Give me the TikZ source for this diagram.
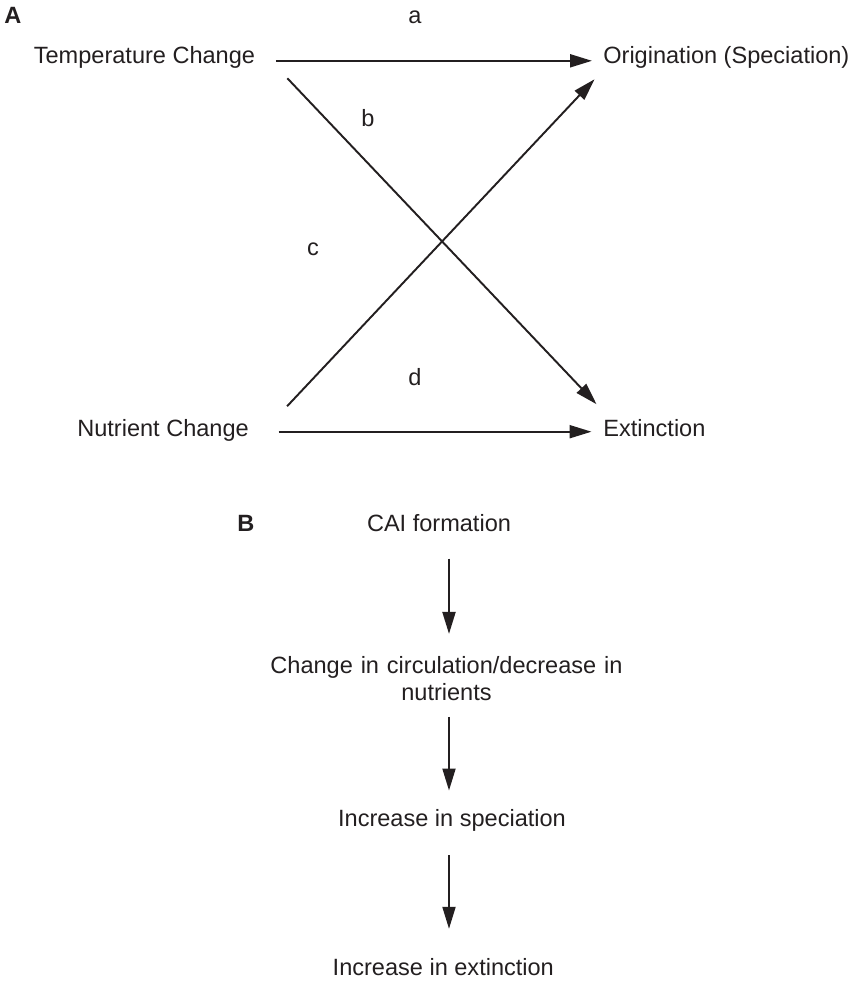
\documentclass[tikz,border=0pt]{standalone}
\usepackage{fontspec}
\setmainfont{Liberation Sans}
\usetikzlibrary{arrows.meta}
\definecolor{ink}{HTML}{231F20}

\begin{document}
\begin{tikzpicture}[x=0.02cm, y=-0.02cm,
  txt/.style={font=\fontsize{13.4}{15.6}\selectfont, text=ink, inner sep=0pt},
  lbl/.style={txt, text height=9.6pt, text depth=2.9pt},
  blk/.style={txt, text width=9cm, align=center},
  tag/.style={txt, font=\fontsize{13.4}{15.6}\selectfont\bfseries},
  arr/.style={draw=ink, line width=1.1pt, -{Triangle[length=12.5pt, width=7.4pt]}}]
\useasboundingbox (0,0) rectangle (861,981);
\node[tag, anchor=base west] (pa) at (4,23.5) {A};
\node[lbl, anchor=base] (la) at (415,23.3) {a};
\node[lbl, anchor=base west] (temp) at (33.5,63.3) {Temperature Change};
\node[lbl, anchor=base west] (orig) at (603,63.3) {Origination (Speciation)};
\node[lbl, anchor=base] (lb) at (368,126.7) {b};
\node[lbl, anchor=base] (lc) at (313,255.5) {c};
\node[lbl, anchor=base] (ld) at (415,385) {d};
\node[lbl, anchor=base west] (nutr) at (77,436.7) {Nutrient Change};
\node[lbl, anchor=base west] (extn) at (603,436.7) {Extinction};
\draw[arr] ([shift={(0.41cm,0.05cm)}]temp.base east) -- ([shift={(-0.22cm,0.05cm)}]orig.base west);
\draw[arr] ([shift={(0.64cm,-0.30cm)}]temp.base east) -- ([shift={(-0.13cm,0.65cm)}]extn.base west);
\draw[arr] ([shift={(0.76cm,0.61cm)}]nutr.base east) -- ([shift={(-0.17cm,-0.32cm)}]orig.base west);
\draw[arr] ([shift={(0.59cm,0.10cm)}]nutr.base east) -- ([shift={(-0.23cm,0.10cm)}]extn.base west);
\node[tag, anchor=base west] (pb) at (237,531.7) {B};
\node[lbl, anchor=base] (cai) at (439,531.7) {CAI formation};
\node[blk, anchor=base] (circ) at (446.5,673.3) {Change in circulation/decrease in\\nutrients};
\node[lbl, anchor=base] (spec) at (452,826.7) {Increase in speciation};
\node[lbl, anchor=base] (extc) at (443.3,975) {Increase in extinction};
\coordinate (spine) at (449,0);
\draw[arr, shorten <=0.43cm, shorten >=0.44cm] (cai.south -| spine) -- (circ.north -| spine);
\draw[arr, shorten <=0.31cm, shorten >=0.38cm] (circ.south -| spine) -- (spec.north -| spine);
\draw[arr, shorten <=0.46cm, shorten >=0.58cm] (spec.south -| spine) -- (extc.north -| spine);
\end{tikzpicture}
\end{document}
